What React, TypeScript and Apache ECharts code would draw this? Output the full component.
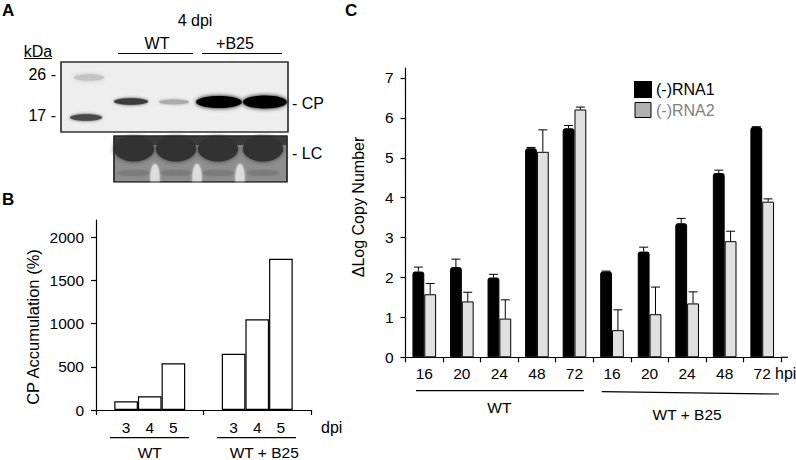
import React, { useEffect, useRef } from "react";
import * as echarts from "echarts";

// ---------- Panel B data ----------
const bGroups = ["WT", "WT + B25"];
const bDpi = ["3", "4", "5"];
const cpDpi3 = [100, 650];
const cpDpi4 = [160, 1050];
const cpDpi5 = [540, 1750];
const bTicks = [0, 500, 1000, 1500, 2000];

// ---------- Panel C data ----------
const cHpi = ["16", "20", "24", "48", "72", "16", "20", "24", "48", "72"];
const cGroups = ["WT", "WT + B25"];
const rna1 = [2.15, 2.26, 2.0, 5.24, 5.74, 2.15, 2.65, 3.36, 4.62, 5.77];
const rna1Err = [0.11, 0.2, 0.08, 0.02, 0.07, 0.01, 0.11, 0.12, 0.07, 0.01];
const rna2 = [1.58, 1.4, 0.97, 5.15, 6.21, 0.68, 1.08, 1.35, 2.91, 3.9];
const rna2Err = [0.27, 0.23, 0.47, 0.55, 0.06, 0.51, 0.68, 0.29, 0.25, 0.07];

const FONT = "'Liberation Sans', Arial, Helvetica, sans-serif";
const C_GAP = 0.37;

function txt(text: string, x: number, y: number, opts: any = {}) {
  return {
    type: "text",
    x,
    y,
    rotation: opts.rotation || 0,
    z: 20,
    style: {
      text,
      fontFamily: FONT,
      fontSize: opts.fontSize || 16,
      fontWeight: opts.fontWeight || "normal",
      fill: opts.fill || "#000",
      align: opts.align || "center",
      verticalAlign: opts.verticalAlign || "middle",
    },
  };
}

function hline(x1: number, y1: number, x2: number, y2: number, w = 1.2) {
  return {
    type: "line",
    z: 10,
    shape: { x1, y1, x2, y2 },
    style: { stroke: "#000", lineWidth: w },
  };
}

function band(cx: number, cy: number, rx: number, ry: number, color: string, blur: number, z = 11) {
  return {
    type: "ellipse",
    z,
    shape: { cx, cy, rx, ry },
    style: { fill: color, shadowBlur: blur, shadowColor: color },
  };
}

function blotGraphics() {
  const g: any[] = [];
  // Panel letters
  g.push(txt("A", 2, 2, { fontSize: 17, fontWeight: "bold", align: "left", verticalAlign: "top" }));
  g.push(txt("B", 2, 191, { fontSize: 17, fontWeight: "bold", align: "left", verticalAlign: "top" }));
  g.push(txt("C", 345, 2, { fontSize: 17, fontWeight: "bold", align: "left", verticalAlign: "top" }));
  // header labels
  g.push(txt("4 dpi", 195, 20));
  g.push(txt("WT", 157, 43));
  g.push(txt("+B25", 235, 43));
  g.push(hline(118, 53.5, 193, 53.5));
  g.push(hline(202, 53.5, 282, 53.5));
  g.push(txt("kDa", 38, 51));
  g.push(hline(24, 58.5, 52, 58.5, 1));
  g.push(txt("26 -", 56, 74, { align: "right" }));
  g.push(txt("17 -", 56, 115.5, { align: "right" }));
  // Blot 1 box
  g.push({
    type: "rect",
    z: 10,
    shape: { x: 61, y: 62, width: 227, height: 70 },
    style: { fill: "#eeeeee", stroke: "#333", lineWidth: 1.2 },
  });
  g.push(band(89, 77.5, 15, 3.2, "#c4c4c4", 4));
  g.push(band(86, 117.5, 16, 3.2, "#4a4a4a", 3));
  g.push(band(131, 101.5, 17, 3.2, "#3c3c3c", 3));
  g.push(band(174, 102, 15, 2.4, "#ababab", 3));
  g.push(band(219, 102, 23, 6, "#000", 4));
  g.push(band(265, 102, 22, 6.5, "#000", 4));
  g.push({
    type: "rect",
    z: 12,
    shape: { x: 61, y: 62, width: 227, height: 70 },
    style: { fill: "none", stroke: "#333", lineWidth: 1.2 },
  });
  g.push(txt("- CP", 292, 103, { align: "left" }));
  // Blot 2 (LC) box
  g.push({
    type: "rect",
    z: 10,
    shape: { x: 114, y: 136, width: 173, height: 46 },
    style: { fill: "#8e8e8e", stroke: "#222", lineWidth: 1.2 },
  });
  g.push({
    type: "rect",
    z: 11,
    shape: { x: 114, y: 136, width: 173, height: 9 },
    style: { fill: "#3a3a3a" },
  });
  [134, 176, 218, 263].forEach((cx) => {
    g.push(band(cx, 149, 20, 12.5, "#303030", 4));
    g.push(band(cx, 173, 16, 3, "#7c7c7c", 3));
  });
  [155, 197, 240].forEach((cx) => {
    g.push(band(cx, 178, 4.5, 14, "#dcdcdc", 3, 12));
  });
  // cover blur overflow below LC box
  g.push({
    type: "rect",
    z: 13,
    shape: { x: 105, y: 182.6, width: 190, height: 18 },
    style: { fill: "#fff" },
  });
  g.push({
    type: "rect",
    z: 14,
    shape: { x: 114, y: 136, width: 173, height: 46 },
    style: { fill: "none", stroke: "#222", lineWidth: 1.2 },
  });
  g.push(txt("- LC", 292, 153.5, { align: "left" }));

  // Panel B annotations
  g.push(txt("CP Accumulation (%)", 32.5, 327, { rotation: Math.PI / 2, fontSize: 16.5 }));
  g.push(hline(110, 437.7, 189, 437.7));
  g.push(hline(217, 437.7, 296, 437.7));
  g.push(txt("dpi", 321, 427, { align: "left" }));

  // Panel C annotations
  g.push(txt("\u0394Log Copy Number", 358, 207, { rotation: Math.PI / 2, fontSize: 16 }));
  g.push(hline(416, 390.7, 584, 390.7));
  g.push(hline(601.7, 391.7, 779, 394));
  g.push(txt("hpi", 775, 373, { align: "left" }));
  g.push(hline(781, 357.3, 788, 357.3, 1.2));
  return g;
}

function errSeries(values: number[], errs: number[], side: number) {
  return {
    type: "custom",
    xAxisIndex: 1,
    yAxisIndex: 1,
    z: 5,
    silent: true,
    data: values.map((v, i) => [i, v, v + errs[i]]),
    renderItem: (params: any, api: any) => {
      const idx = api.value(0);
      const v = api.value(1);
      const top = api.value(2);
      const bandW = api.size([1, 0])[0];
      const bw = (bandW * (1 - C_GAP)) / 2;
      const cx = api.coord([idx, 0])[0] + (side * bw) / 2;
      const y0 = api.coord([idx, v])[1];
      const y1 = api.coord([idx, top])[1];
      return {
        type: "group",
        children: [
          { type: "line", shape: { x1: cx, y1: y0, x2: cx, y2: y1 }, style: { stroke: "#000", lineWidth: 1 } },
          { type: "line", shape: { x1: cx - 4.5, y1: y1, x2: cx + 4.5, y2: y1 }, style: { stroke: "#000", lineWidth: 1 } },
        ],
      };
    },
  };
}

export default function App() {
  const ref = useRef<HTMLDivElement>(null);
  useEffect(() => {
    if (!ref.current) return;
    const chart = echarts.init(ref.current, null, { renderer: "svg" });
    const axisLine = { show: true, lineStyle: { color: "#000", width: 1.2 } };
    const axisTick = { show: true, length: 5, lineStyle: { color: "#000", width: 1.2 } };
    const labelStyle = { color: "#000", fontFamily: FONT, fontSize: 15.5 };
    const bSeriesValues = [cpDpi3, cpDpi4, cpDpi5];

    const option: any = {
      animation: false,
      backgroundColor: "#fff",
      textStyle: { fontFamily: FONT },
      grid: [
        { left: 96, top: 220, width: 215, height: 191, containLabel: false },
        { left: 405.5, top: 68, width: 375.5, height: 289.3, containLabel: false },
      ],
      legend: {
        orient: "vertical",
        left: 629,
        top: 76,
        itemWidth: 16,
        itemHeight: 15,
        itemGap: 4,
        icon: "rect",
        textStyle: { fontSize: 16, fontFamily: FONT, color: "#000" },
        data: [
          { name: "(-)RNA1", itemStyle: { color: "#000" } },
          {
            name: "(-)RNA2",
            itemStyle: { color: "#b0b0b0", borderColor: "#000", borderWidth: 1 },
            textStyle: { color: "#7f7f7f" },
          },
        ],
      },
      xAxis: [
        {
          type: "category",
          gridIndex: 0,
          data: bGroups.map((g, i) =>
            i === 1 ? { value: g, textStyle: { padding: [0, 0, 0, 14] } } : g
          ),
          axisLine,
          axisTick: { ...axisTick, alignWithLabel: false },
          axisLabel: { ...labelStyle, margin: 34 },
        },
        {
          type: "category",
          gridIndex: 1,
          data: cHpi.map((h, i) => `${i}|${h}`),
          axisLine,
          axisTick: { ...axisTick, alignWithLabel: false },
          axisLabel: { ...labelStyle, margin: 8, formatter: (v: string) => v.split("|")[1] },
        },
        {
          type: "category",
          gridIndex: 1,
          position: "bottom",
          data: cGroups.map((g, i) =>
            i === 1 ? { value: g, textStyle: { padding: [7, 0, 0, 0] } } : g
          ),
          axisLine: { show: false },
          axisTick: { show: false },
          axisLabel: { ...labelStyle, margin: 42 },
        },
      ],
      yAxis: [
        {
          type: "value",
          gridIndex: 0,
          min: 0,
          max: 2200,
          interval: 500,
          splitLine: { show: false },
          axisLine,
          axisTick,
          axisLabel: {
            ...labelStyle,
            margin: 12,
            showMaxLabel: false,
            formatter: (v: number) => (bTicks.indexOf(v) >= 0 ? String(v) : ""),
          },
        },
        {
          type: "value",
          gridIndex: 1,
          min: 0,
          max: 7.25,
          interval: 1,
          splitLine: { show: false },
          axisLine,
          axisTick,
          axisLabel: {
            ...labelStyle,
            margin: 12,
            showMaxLabel: false,
            formatter: (v: number) => (Number.isInteger(v) ? String(v) : ""),
          },
        },
      ],
      series: [
        ...bDpi.map((d, k) => ({
          type: "bar",
          name: d,
          xAxisIndex: 0,
          yAxisIndex: 0,
          data: bSeriesValues[k],
          barGap: "0%",
          barCategoryGap: "34%",
          itemStyle: { color: "#fff", borderColor: "#000", borderWidth: 1.2 },
          label: {
            show: true,
            position: "bottom",
            distance: 9,
            formatter: () => d,
            color: "#000",
            fontFamily: FONT,
            fontSize: 15.5,
          },
        })),
        {
          type: "bar",
          name: "(-)RNA1",
          xAxisIndex: 1,
          yAxisIndex: 1,
          data: rna1,
          barGap: "0%",
          barCategoryGap: `${C_GAP * 100}%`,
          itemStyle: { color: "#000", borderColor: "#000", borderWidth: 1, borderRadius: [2, 2, 0, 0] },
        },
        {
          type: "bar",
          name: "(-)RNA2",
          xAxisIndex: 1,
          yAxisIndex: 1,
          data: rna2,
          barGap: "0%",
          barCategoryGap: `${C_GAP * 100}%`,
          itemStyle: { color: "#e0e0e0", borderColor: "#000", borderWidth: 1 },
        },
        errSeries(rna1, rna1Err, -1),
        errSeries(rna2, rna2Err, 1),
      ],
      graphic: blotGraphics(),
    };
    chart.setOption(option);
    return () => chart.dispose();
  }, []);
  return (
    <div
      ref={ref}
      style={{ position: "fixed", left: 0, top: 0, width: 796, height: 460, background: "#fff" }}
    />
  );
}
